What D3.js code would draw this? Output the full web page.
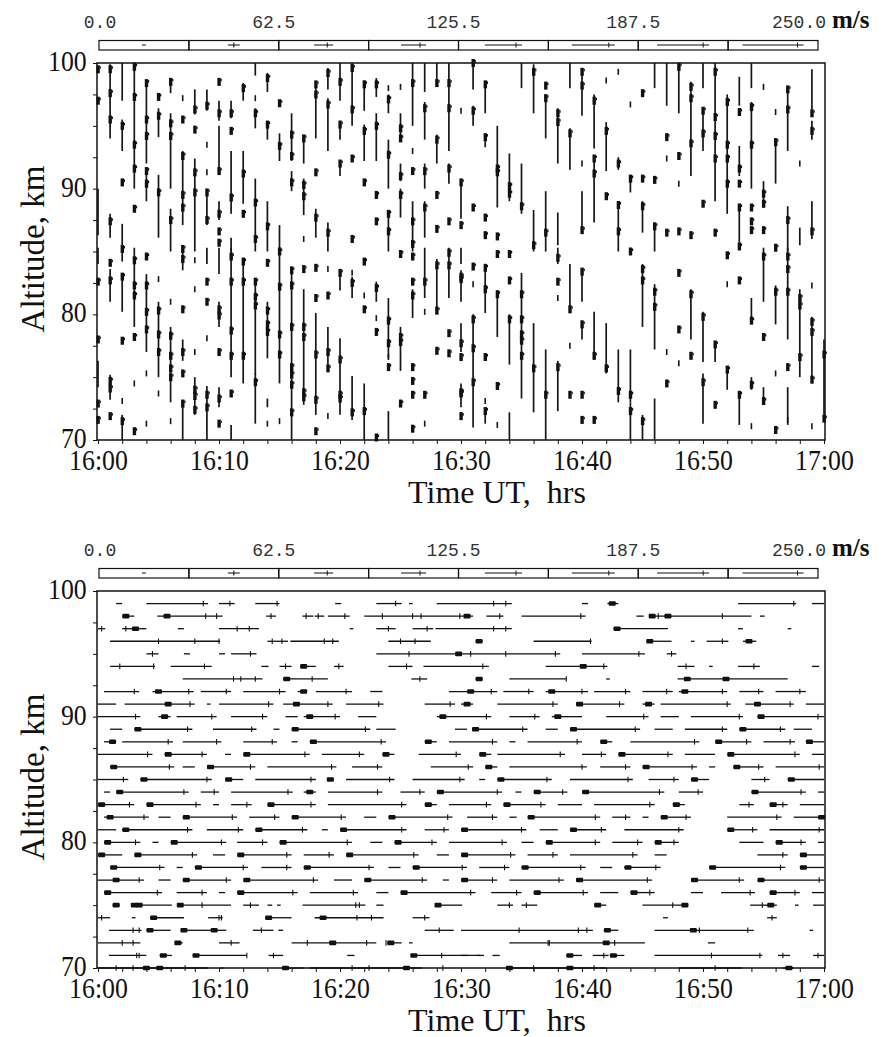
<!DOCTYPE html>
<html>
<head>
<meta charset="utf-8">
<script src="https://cdn.jsdelivr.net/npm/d3@7"></script>
<style>
body{margin:0;background:#fff}
svg text{font-family:"Liberation Serif","Times New Roman",serif;fill:#111}
</style>
</head>
<body>
<svg width="881" height="1037"></svg>
<script>
// legend scale of the arrows, m/s
const legendTicks=["0.0","62.5","125.5","187.5","250.0"]
const legendSpeeds=[16,49,78,102,152,176,213,250]
const xTicks=["16:00","16:10","16:20","16:30","16:40","16:50","17:00"]
const altTicks=[70,80,90,100]

// top panel: vertical component. [minute, alt from, alt to]
const vLines=[[0,90,86.3],[0,85.3,84],[0,76.3,74.2],
[1,99.9,94],[1,88,86.1],[1,83.6,81],[1,75.2,73.2],
[2,100,97],[2,95.5,93],[2,87.2,85],[2,85.3,84.2],[2,83.2,80.2],[2,72,70],
[3,100,90],[3,85.3,79],
[4,98.4,92],[4,91.4,89],[4,83.2,77],
[5,96.4,94.1],[5,91.1,86.1],[5,81,75],
[6,98.6,97.6],[6,96,90],[6,88.4,85],[6,79,73],
[7,93,87.1],[7,85.3,83.5],[7,78,76.3],[7,73,70],
[8,97.9,95.9],[8,92.4,89.8],[8,89.8,85],[8,75,72],
[9,97.9,96.2],[9,89.8,87.1],[9,85.3,84],[9,74.3,70],
[10,97,95.4],[10,95,91.4],[10,89,87.5],[10,85.3,83.2],[10,81,79],[10,74.2,72.6],
[11,97,95.6],[11,93,88],[11,86.1,85],[11,85.3,75],[11,71.2,70],
[12,98.4,97],[12,93,88.8],[12,84,74.5],
[13,100,99],[13,96.4,94.8],[13,90.8,85],[13,82.4,75.2],[13,75.3,71.3],
[14,99.2,97.7],[14,95.3,93.9],[14,89,85],[14,81,76.5],[14,73.3,72.6],
[15,94.4,92.2],[15,87.1,85],[15,85.3,74.5],
[16,96,92.2],[16,91.4,89.8],[16,83.5,70],
[17,94.2,92],[17,90.8,87.9],[17,82,72.8],
[18,98.4,94],[18,88.4,86.1],[18,80.1,72],
[19,99.6,97.9],[19,97.2,93],[19,87.3,85],[19,79,76],
[20,100,97],[20,95.4,93.9],[20,92.2,91],[20,83.5,81.9],[20,78.1,72],
[21,100,95],[21,83,81.3],[21,75.1,71.6],
[22,98.6,96.2],[22,95.1,92.2],[22,74.5,70],
[23,98.8,97.3],[23,96,92.2],[23,82.6,81],
[24,97.5,96],[24,93.9,90],[24,88.2,85],[24,81.3,76.5],[24,72.3,70],
[25,96,93.8],[25,92,90.6],[25,90,87.7],[25,79,75.5],
[26,100,95],[26,89,85],[26,82,79.7],
[27,100,97.7],[27,96.9,93.9],[27,92,90],[27,89,86.1],[27,85.3,81.3],
[28,100,98.5],[28,94.3,92],[28,84.4,80],
[29,100,93],[29,92,90.4],[29,85.3,81.3],
[30,90.6,87.6],[30,85.3,84],[30,83.5,81],[30,79.3,77],[30,74.5,72.6],
[31,100,97.9],[31,96.6,95],[31,80,71],
[32,98.5,96],[32,94.3,93.3],[32,84,80.1],[32,72.6,71.3],
[33,95,88.5],[33,81.9,78.2],
[34,92.8,89],[34,80,76],[34,72.2,70],
[35,100,98],[35,92,88],[35,83.3,73.3],
[36,99.9,96],[36,88.3,85],[36,79.3,72.2],
[37,97.5,94],[37,89.8,85],[37,77.2,70],
[38,96.4,92],[38,88.1,85.5],[38,85.3,84],[38,76.3,72.3],
[39,100,98],[39,94.8,91.5],[39,84,80.3],
[40,99.6,95.8],[40,89.8,86.5],[40,83.6,81],[40,79.5,78],
[41,97.5,93.2],[41,92.6,87.3],[41,80.2,76.4],
[42,95.3,91.4],[42,79.3,75.3],
[43,92.5,91.5],[43,89,85],[43,77.2,73],
[44,91,89.7],[44,77.2,73],[44,73,70],
[45,89,86.5],[45,84,79],[45,72,70],
[46,100,98],[46,87.3,85],[46,82.4,77.2],[46,73.3,70],
[47,100,96.6],
[48,100,96],
[49,98.5,91],[49,82,78],
[50,100,98],[50,96.4,93],[50,80.2,76.2],[50,75.3,71.3],
[51,100,89],[51,77.5,76.2],
[52,97.5,88],[52,75.5,74],
[53,98.9,96.6],[53,93.4,91],[53,88.8,85.7],[53,73.6,71.2],
[54,100,98],[54,96.9,90],[54,81.3,79.4],[54,75,74],
[55,90.6,88.5],[55,85.3,81],[55,74.2,72.9],
[56,94,90.4],[56,82.3,79.2],
[57,97.9,93],[57,88.6,85],[57,85.3,78],[57,74.2,71.2],
[58,86.9,85.5],[58,82,75],
[59,99.5,96.3],[59,95.4,93.9],[59,89,86],[59,79.8,74.9],
[60,78,72]]

// arrow heads, [minute, [alts]]
const vHeads=[[0,[99.5,97,82.6,78,72.9,71.6]],
[1,[99.5,97.6,95.5,87.4,84.1,82.7,74.7,74.1,71.9]],
[2,[95,90.5,85.2,83,77.9,71.5]],
[3,[99.7,97.3,93.5,91.6,88.4,84.3,82.3,81.5,78.2,70.7]],
[4,[98.4,95.5,94.2,91.4,90.4,84.6,82.3,80.2,78.8]],
[5,[97.3,95.8,89.7,80.3,78.4,77]],
[6,[98.5,95.2,94.2,87.5,78.3,76.7,75.7,75]],
[7,[95.5,92.6,89.5,88.5,85.2,84.4,80.4,77,75.3,72.9]],
[8,[96.3,94.7,91.3,89.7,74,73.5,72.4]],
[9,[96.6,89.7,87.5,82.6,81,73.6,72.6]],
[10,[98.5,96,91.4,88,86.6,85.7,80.4,79.9,77,73.3,71.3]],
[11,[96,94.6,89.3,84.6,82.6,78.7,76.7,73.7]],
[12,[98,91.2,88,84.2,82.6,76.7]],
[13,[96,88.9,86,82.6,81.4,80.7,74.6]],
[14,[98.8,95.1,87,84.1,80.3,79.2,78.6]],
[15,[96.8,93.4,85,82.2,78.4,76.8]],
[16,[94.3,92.6,90.5,83.5,82.3,79,75.8,75.2,74.4,72.2]],
[17,[94,90.3,89.4,83.6,79,78.2,73.8,73.4]],
[18,[98.3,97.5,91.3,87.7,83.7,81.3,76.8,73.2,70.7]],
[19,[99.2,96.7,86.5,81.5,77,75.7]],
[20,[98.5,95.1,92,83.3,76.4,73.6,73.3]],
[21,[99.6,96.3,92.4,86,82.5,72.2]],
[22,[98.3,94.6,90.5,84.2,80.4,72.3]],
[23,[98.3,95,89.5,87.4,82.1,78.6,70.2]],
[24,[97.1,92.7,88,86.6,79.5,77.7,75.8]],
[25,[94.8,94,91,89.5,84.8,78.2,77.8,72.9]],
[26,[98.4,91.4,87.4,85.6,84.6,82.6,81.5,75.8,74.7,73.6,70.9]],
[27,[96.4,91.4,88.5,82.6,73.6]],
[28,[98.4,93.9,89.5,86.8,83.9,80.3,77.1]],
[29,[98.4,96.4,91.6,87.4,84.9,83.9,78.5,76.9]],
[30,[90.5,87.1,83,82.8,77.7,76.6,73.8,73.7,71.9]],
[31,[100,96.2,88.5,83.8,79.6,77.3,74.6]],
[32,[98.3,94.1,87.7,86.3,83.7,82,76.6,72.3]],
[33,[91.6,91.3,86.2,84.8,81.6,74.3]],
[34,[90.2,89.6,84.8,82.7,79.6]],
[35,[88.6,81.6,79.6,78.4,77.9,76.7]],
[36,[99.3,85.5,75.7]],
[37,[98.2,97.2,86.5,73.6]],
[38,[96,95.3,84.5,82.6,75.8]],
[39,[94.4,80.4,73.6]],
[40,[99.3,98.2,86.7,83.4,79.2,73.6,71.6]],
[41,[97,92.4,91.2,76.7,71.6]],
[42,[94.6,89.4,75.7]],
[43,[92,88.7,86.6,73.9]],
[44,[90.8,85,73.6,72.3]],
[45,[97.6,90.8,88.6,83.6,82.7,71.5]],
[46,[90.7,87,81.8,80.6]],
[47,[94.1,86.5,74.5]],
[48,[99.7,92.6,86.6,83.3,78.8]],
[49,[98.1,97.2,93.6,86.3,81.6,76.7]],
[50,[96.2,94.4,88.8,79.8,74.6]],
[51,[99.3,95.7,94.2,92.4,86.5,77.6,72.8]],
[52,[96.9,93.5,92.4,90.4,84.7,75.6]],
[53,[96.1,91.6,90.4,88.5,85.4,82.7,73.6]],
[54,[96.5,93.5,88.5,87.4,86.7,79.5,74.4]],
[55,[89.6,88.8,86.7,84.6,78.2,73.1]],
[56,[93.7,85.3,81.8,70.8]],
[57,[97.9,96.3,87.5,84.6,83.6,81.8,75.8]],
[58,[81.3,80.7,76.6]],
[59,[96,94.6,86.6,79.4,78.6,74.8]],
[60,[76.8,71.7]]]

// short stubs (slow vectors), [minute, [alts]]
const vStubs=[[2,[73.1]],[3,[74.5]],[4,[75.3,71.3]],[5,[82.8,73.7]],[6,[81,71.5]],[7,[97.2]],
[8,[84.3,82,77]],[9,[93.5,91.3,78.1]],[13,[97.2]],[14,[71.3]],[15,[71.5]],[17,[86]],
[19,[83.6,71.9]],[21,[83.3]],[22,[81.5]],[23,[79.7]],[24,[98,76.6]],[25,[98.1]],[26,[93]],
[27,[80.2,71.3]],[30,[96.2]],[31,[82.4]],[32,[73.1]],[33,[71.2]],[38,[81.3]],[39,[77.5]],
[40,[92]],[42,[98.6]],[43,[99.3]],[44,[96.7]],[47,[92.4,77]],[48,[90.4,76.1]],[52,[82.4]],
[54,[71.1]],[55,[98.1]],[56,[96.1,75.3]],[57,[71.6]],[58,[92]],[59,[82.3,71.1]]]

// bottom panel: horizontal component, per altitude row
// [alt, [[minute from, minute to], ...]]
const hLines=[
[99,[[1.5,2],[4,9.1],[10,11.3],[13,15],[19.6,20.1],[23,25.1],[25.7,26],[28,34.2],[40,40.5],[42.1,43],[52.9,57.7],[59,60]]],
[98,[[2,3],[4.9,10.3],[13.9,14.7],[16.9,17.8],[17.9,18.7],[19,20.8],[22,31],[32.1,33.5],[35,40.3],[44.5,45.1],[45.8,54],[54.7,55.1]]],
[97,[[0,0.6],[2,4],[6.6,7.1],[10,13.3],[20.8,21.1],[23,24.6],[26,27.7],[27.9,34.2],[42.6,47.1],[52.9,53.3],[57,57.3]]],
[96,[[1,10.1],[14,15.7],[15.9,19.9],[24,27.5],[31.2,31.8],[36,40.8],[45.4,47.4],[49,49.3],[50.3,52.1],[53.3,54.4]]],
[95,[[4,5],[7.1,7.6],[10,10.5],[11,13.1],[23,38.2],[40,45.2],[47,47.8]]],
[94,[[1,4.7],[6,9.4],[13.5,14.1],[15,16],[16.7,18],[19.5,20.3],[24,26],[26.9,32.3],[37,42.1],[47.9,49.3],[50.5,50.8],[52.9,54.7],[59,59.6]]],
[93,[[7,13.6],[15.3,19],[25.9,27.2],[31.2,31.8],[34,38.7],[42,42.3],[47.9,57]]],
[92,[[0.5,3.4],[4.5,7.9],[8.5,11],[12,15.5],[16.5,17],[18,21],[22.5,23.5],[29,33],[33.5,36],[37,40.5],[41,44],[45,47.5],[48,52],[53,55],[56,58.5]]],
[91,[[0,1.5],[2.2,8],[9,9.3],[10,14.5],[15.3,19.4],[20.5,23.6],[27,29.5],[30,31],[33,38],[39.5,43.5],[45,46],[46.5,52.3],[53.5,57.5],[58.5,60]]],
[90,[[0,3.5],[5,6],[6.5,9.8],[11,14],[15.5,16.5],[17,20],[21.5,23],[28,32.5],[34,36.5],[37.5,40],[42,45.5],[46.5,48],[49,53.3],[54.5,60]]],
[89,[[1,2],[3,7.8],[9.5,13.1],[14.5,15],[16,22.5],[23,24.6],[29.5,30.5],[31,35.5],[37,38],[39,44.8],[46,47.5],[48.5,52],[53,56.8],[57.5,59]]],
[88,[[0.5,1.5],[2,6.2],[7,10.2],[12,14.8],[16,16.5],[17.5,23.8],[27,28],[29,33],[34,34.5],[35.5,40],[41.5,42.5],[44,49.7],[51,54],[55,57.6],[58.5,60]]],
[87,[[0,4.5],[5.5,9],[10.5,11],[12,17.5],[18.5,22],[23.5,24.5],[26.5,30],[31.5,32.5],[33,38.6],[40,42],[43,47.5],[48.5,51],[52,58],[59,60]]],
[86,[[1,6.3],[7,8],[9,13],[14,19.7],[21,23.5],[27.5,31],[32,33],[34,40.4],[41.5,44],[45,49.5],[50.5,51],[52.5,55],[56,60]]],
[85,[[0,2.5],[3.5,9.4],[10.5,12],[13,18],[19,19.5],[20.5,24.5],[26,30.3],[31.5,32],[33,37.5],[39,44.2],[45.5,48],[49,50.5],[54,55.5],[57,60]]],
[84,[[0.5,1],[1.5,7.5],[8.5,10],[11,16.1],[17,18],[19,23.5],[25,27],[28,33.4],[34.5,35],[36,38.8],[40,46.8],[48,50],[54,58.5],[59.5,60]]],
[83,[[0,3],[4,8.5],[9.5,10],[11,12.7],[14,18],[19,25.5],[27,28],[29,32.5],[33.5,37],[38,40],[41,46],[47.5,48.5],[53,54.2],[55.5,57],[58,60]]],
[82,[[0.5,4.2],[5,6],[7,11.5],[12.5,15],[16,20.5],[22,23],[24,29.3],[30.5,33],[34,34.6],[35.5,41.5],[42.5,44],[45,45.5],[46.5,49],[52,56.5],[57.5,60]]],
[81,[[0,1.5],[2,7.8],[9,12],[13,17.3],[18.5,19],[20,25.5],[27,29],[30,35.4],[36.5,38],[39,42],[43.5,48.4],[52,54.5],[55.5,60]]],
[80,[[0.5,3.5],[4.5,5],[6,10.6],[11.5,14],[15,21],[22.5,23.5],[24.5,28],[29,33.8],[35,36],[37,41.5],[42.5,45],[46,48],[53,55],[56,58.5],[59.5,60]]],
[79,[[0,2],[3,8.2],[9.5,10.5],[11.5,16],[17,19.5],[20.5,26.5],[28,29],[30,34.5],[35.5,38],[39,44.6],[46,47],[54.5,57],[58,60]]],
[78,[[1,5.5],[6.5,7],[8,12.4],[13.5,16],[17,22.8],[24,25],[26,30.5],[31.5,34],[35,40.3],[41.5,42.5],[43.5,46.5],[50.5,56.8],[58,60]]],
[77,[[0,3.8],[5,6],[7,11],[12,18.2],[19.5,21],[22,27.2],[28.5,29],[30,33],[34,38.5],[39.5,45.8],[49,53.4],[54.5,60]]],
[76,[[0.5,5.3],[6.5,9],[10,10.5],[11.5,16.5],[17.5,21.5],[23,24],[25,31.2],[32.5,35],[36,40.5],[41.5,43],[44,46],[49,50],[51.5,54.3],[55.5,58],[59,60]]],
[75,[[1.2,1.8],[2.8,6.1],[6.8,11],[12,13.3],[14,14.4],[14.8,15.1],[16.9,22.1],[23,23.6],[28.1,30.1],[33,34.3],[35,36.3],[41,42],[45,48.8],[53.9,56.1],[57.6,57.9],[59.1,60]]],
[74,[[0,1],[2.8,3.1],[4.3,7.1],[9.1,10.3],[13.8,16],[17.9,23.6],[26,27.4],[46.7,47.1],[55.3,56.1]]],
[73,[[0.9,3.6],[4,6],[6.9,9.1],[9.1,10.6],[12.8,14.5],[14.9,15.3],[27,29.4],[30,40.9],[41.8,43],[46,54.2],[58.8,59.1]]],
[72,[[0,3.5],[6.4,7],[10,11.7],[16,23],[23.9,25.1],[25.7,26],[34,45.2],[50.4,51]]],
[71,[[0.9,4],[5.1,6.1],[7.9,12.3],[14.1,15.3],[20.6,21.2],[25.9,31.6],[30,30.6],[31.3,31.9],[32.6,33.2],[38.7,40],[40.9,42.2],[42.3,43.5],[46,54.9],[56.2,57.2],[59.1,60]]],
[70,[[0,9.1],[10.1,10.4],[15.2,17],[17.5,26.8],[33.8,42],[48,53.2],[56.6,57.5]]]]

const hTicks=[
[99,[8.7,10.9,14.8,24.6,32.7,33.7,57.5]],
[98,[8.9,9.8,14.3,17.2,18.2,20.4,23.5,26,26.7,29.9,33.2,39.9,46.3,51.6]],
[97,[0.3,2.3,11.5,12.5,24,27.2,32.7,33.7]],
[96,[5,8,10,14.4,15.2,18.7,19.4,25,26.2,40.7,51.6]],
[95,[4.5,12.6,25.7,30.8,33.7,37.8,44.7,47.4]],
[94,[1.8,4.6,8.8,15.5,19.9,25.5,31.8,41.8,48.6,54.2]],
[93,[11.2,11.8,13,17.7,26.6,38.7]],
[92,[3,7.5,10.6,15,20.5,32.5,35.6,40,43.6,47,51.6,54.6,58]],
[91,[7.6,14.1,19,23.2,29.1,37.6,43.1,52,57.2]],
[90,[3.1,9.4,13.6,19.6,32.1,36.1,45.1,53,59.5]],
[89,[7.4,12.7,22.1,35.1,44.4,51.6,56.4]],
[88,[5.8,9.8,14.4,23.4,32.6,39.6,49.3,53.6,57.2]],
[87,[4.1,8.6,17.1,21.6,29.6,38.2,41.6,47.1,57.6]],
[86,[5.9,12.6,19.3,23.1,30.6,40,43.6,49.1,54.6,59.6]],
[85,[2.1,9,17.6,24.1,29.9,37.1,43.8,47.6,55.1]],
[84,[7.1,9.6,15.7,23.1,26.6,33,38.4,46.4,49.6,58.1]],
[83,[2.6,8.1,12.3,17.6,25.1,32.1,36.6,45.6,53.8,56.6]],
[82,[3.8,11.1,14.6,20.1,28.9,32.6,41.1,43.6,48.6,56.1]],
[81,[7.4,11.6,16.9,25.1,28.6,35,41.6,48,54.1,59.6]],
[80,[3.1,10.2,13.6,20.6,27.6,33.4,41.1,44.6,47.6,58.1]],
[79,[7.8,15.6,19.1,26.1,34.1,37.6,44.2,56.6]],
[78,[5.1,12,15.6,22.4,30.1,33.6,39.9,46.1,56.4]],
[77,[3.4,10.6,17.8,26.8,32.6,38.1,45.4,53,59.6]],
[76,[4.9,8.6,16.1,21.1,30.8,34.6,40.1,45.6,53.9,57.6]],
[75,[8.6,12.6,21.3,21.6,34,35.4,47.5,54.9]],
[74,[0.3,10,10.2,21.4,22.6,27,55.7]],
[73,[2.9,3.4,13.5,28.2,34.8,39.7,40.4,49.7,53.7]],
[72,[2,2.9,11,17.3,22.2,23.8,37.2,37.3,42.7]],
[71,[3.2,3.4,12.3,14.5,28.4,41.8,50.7,54.7,56.6,59.5]],
[70,[1.5,2.9,7.2,21,22.4,28.5,36,41,51]]]

const hBlobs=[
[99,[42.5]],
[98,[2.3,5.7,30.5,45.8,47.1]],
[97,[3.1,42.9]],
[96,[31.5,45.6,53.8]],
[95,[29.8]],
[94,[17,40.1]],
[93,[15.6,31.5,48.7,51.9]],
[92,[5,17,30.8,37.5,48.5]],
[91,[5.8,16.4,30.5,39.8,45.5,54.5]],
[90,[5.5,17.5,28.5,38,54.8]],
[89,[3.3,16.3,31.2,39.3,53.3]],
[88,[1.2,17.8,27.3,41.8,51.3,58.8]],
[87,[5.8,12.3,23.8,31.8,43.3,52.3]],
[86,[1.3,9.3,32.3,45.3,52.8]],
[85,[3.8,10.8,19.2,33.3,49.3,57.3]],
[84,[1.8,17.5,28.3,36.3,40.3,54.3]],
[83,[0.3,4.3,14.3,27.3,33.8,47.8,55.8]],
[82,[1,7.3,16.3,24.3,35.8,46.8,59.8]],
[81,[2.3,13.3,20.3,30.3,39.3,52.3]],
[80,[0.8,6.3,15.3,24.8,37.3,46.3,56.3]],
[79,[0.3,3.3,11.8,20.8,30.3,58.3]],
[78,[1.3,8.3,17.3,26.3,35.3,43.8,50.8,58.3]],
[77,[1.5,7.3,12.3,22.3,30.3,39.8,49.3,54.8]],
[76,[0.8,11.8,25.3,36.3,44.3,55.8]],
[75,[1.5,3,3.4,6.8,28.1,41.3,48.5,55.6]],
[74,[4.6,14.1,18.6]],
[73,[4.3,7.1,9.6,42.1,49.2]],
[72,[6.6,19.4,24.2,42]],
[71,[5.4,8.1,26.1,39,42.6]],
[70,[4,5.1,15.5,25.5,34,39,57.1]]]

const svg=d3.select("svg")
const x=d3.scaleLinear().domain([0,60]).range([98,824])
const spd=d3.scaleLinear().domain([0,250]).range([0,61])
const lx=d3.scaleLinear().domain([0,8]).range([99,818])

function panel(top){
  const g=svg.append("g")
  const y=d3.scaleLinear().domain([70,100]).range([top+377,top])
  const ly=top-18  // legend bar centre
  // legend labels
  g.selectAll(".ll").data(legendTicks).join("text")
    .attr("x",(d,i)=>i===0?100:Math.min(lx(2*i)-5,799)).attr("y",top-35)
    .attr("text-anchor","middle")
    .style("font-family","'Liberation Mono','Courier New',monospace")
    .style("font-size","18px").style("fill","#333")
    .text(d=>d)
  g.append("text").attr("x",832).attr("y",top-35)
    .style("font-weight","bold").style("font-size","25px").text("m/s")
  g.selectAll(".lc").data(legendSpeeds).join("rect")
    .attr("x",(d,i)=>lx(i)).attr("y",ly-4.5)
    .attr("width",lx(1)-lx(0)).attr("height",9.5)
    .attr("fill","none").attr("stroke","#111").attr("stroke-width",1.2)
  g.selectAll(".la").data(legendSpeeds).join("line")
    .attr("x1",(d,i)=>(lx(i)+lx(i+1))/2-spd(d)/2)
    .attr("x2",(d,i)=>(lx(i)+lx(i+1))/2+spd(d)/2)
    .attr("y1",ly).attr("y2",ly).attr("stroke","#111").attr("stroke-width",1)
  g.selectAll(".lt").data(legendSpeeds.slice(1)).join("line")
    .attr("x1",(d,i)=>(lx(i+1)+lx(i+2))/2+spd(d)/2-Math.min(6,spd(d)/2))
    .attr("x2",(d,i)=>(lx(i+1)+lx(i+2))/2+spd(d)/2-Math.min(6,spd(d)/2))
    .attr("y1",ly-2.5).attr("y2",ly+2.5).attr("stroke","#111").attr("stroke-width",1)

  // axes
  const xa=d3.axisBottom(x).tickValues(d3.range(0,61,2)).tickSize(4).tickPadding(5)
    .tickFormat(d=>d%10===0?xTicks[d/10]:"")
  g.append("g").attr("transform",`translate(0,${top+377})`).call(xa)
  const ya=d3.axisLeft(y).tickValues(d3.range(70,100.1,2.5)).tickSize(4).tickPadding(8)
    .tickFormat(d=>altTicks.includes(d)?d:"")
  g.append("g").attr("transform","translate(97,0)").call(ya)
    .selectAll("text").attr("dy","0.25em")
  g.selectAll(".tick text").style("font-family","'Liberation Serif',serif")
    .style("font-size","30px").style("fill","#111").attr("transform","scale(0.86,1)")
  g.selectAll(".tick line").attr("stroke","#111")
  g.selectAll(".domain").remove()
  g.append("rect").attr("x",97).attr("y",top).attr("width",728).attr("height",377)
    .attr("fill","none").attr("stroke","#111").attr("stroke-width",1.5)
  g.append("text").attr("x",497).attr("y",top+440).attr("text-anchor","middle")
    .style("font-size","32px").attr("xml:space","preserve").text("Time UT,  hrs")
  g.append("text").attr("transform",`translate(44,${top+186}) rotate(-90)`)
    .attr("text-anchor","middle").style("font-size","33px").text("Altitude, km")
  return {g,y}
}

// top panel
const p1=panel(63)
p1.g.append("g").selectAll("line").data(vLines).join("line")
  .attr("x1",d=>x(d[0])).attr("x2",d=>x(d[0]))
  .attr("y1",d=>p1.y(d[1])).attr("y2",d=>p1.y(d[2]))
  .attr("stroke","#161616").attr("stroke-width",1.7)
const heads=vHeads.flatMap(([m,a])=>a.map(v=>[m,v]))
p1.g.append("g").selectAll("rect").data(heads).join("rect")
  .attr("x",d=>x(d[0])-1.6).attr("y",d=>p1.y(d[1])-4)
  .attr("width",3.4).attr("height",8).attr("fill","#111")
p1.g.append("g").selectAll("rect").data(heads).join("rect")
  .attr("x",d=>x(d[0])+1.6).attr("y",d=>p1.y(d[1])-3)
  .attr("width",1.2).attr("height",2.5).attr("fill","#111")
const stubs=vStubs.flatMap(([m,a])=>a.map(v=>[m,v]))
p1.g.append("g").selectAll("line").data(stubs).join("line")
  .attr("x1",d=>x(d[0])).attr("x2",d=>x(d[0]))
  .attr("y1",d=>p1.y(d[1])-3).attr("y2",d=>p1.y(d[1])+3)
  .attr("stroke","#161616").attr("stroke-width",1.6)

// bottom panel
const p2=panel(591)
const segs=hLines.flatMap(([a,s])=>s.map(v=>[a,v[0],v[1]]))
p2.g.append("g").selectAll("line").data(segs).join("line")
  .attr("x1",d=>x(d[1])).attr("x2",d=>x(d[2]))
  .attr("y1",d=>p2.y(d[0])).attr("y2",d=>p2.y(d[0]))
  .attr("stroke","#111").attr("stroke-width",1.3)
const ticks=hTicks.flatMap(([a,s])=>s.map(v=>[a,v]))
p2.g.append("g").selectAll("line").data(ticks).join("line")
  .attr("x1",d=>x(d[1])).attr("x2",d=>x(d[1]))
  .attr("y1",d=>p2.y(d[0])-2.8).attr("y2",d=>p2.y(d[0])+2.8)
  .attr("stroke","#111").attr("stroke-width",1.1)
const blobs=hBlobs.flatMap(([a,s])=>s.map(v=>[a,v]))
p2.g.append("g").selectAll("rect").data(blobs).join("rect")
  .attr("x",d=>x(d[1])-3.5).attr("y",d=>p2.y(d[0])-2.3)
  .attr("width",7).attr("height",4.6).attr("rx",1).attr("fill","#111")
</script>
</body>
</html>
